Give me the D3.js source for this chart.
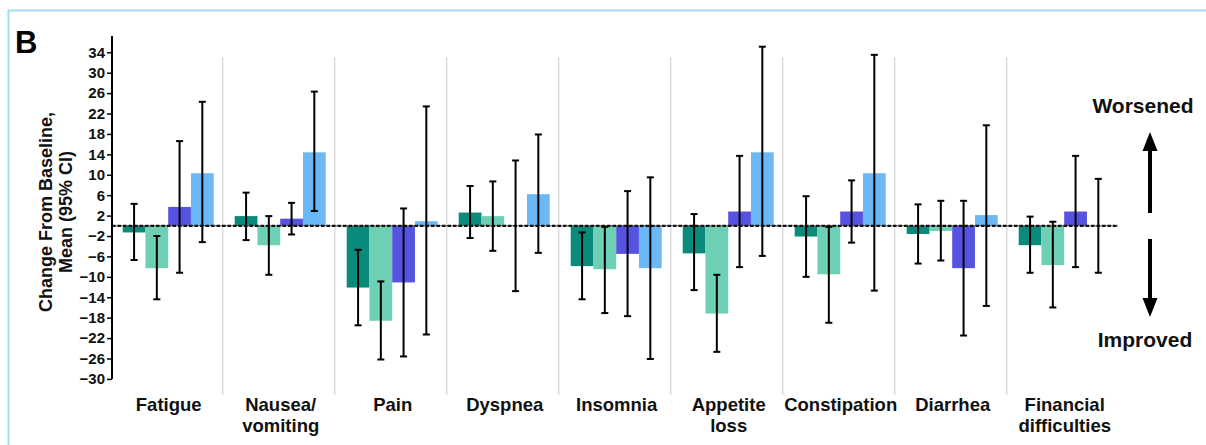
<!DOCTYPE html>
<html>
<head>
<meta charset="utf-8">
<script src="https://cdn.jsdelivr.net/npm/d3@7"></script>
<style>
  html, body { margin: 0; padding: 0; background: #fff; }
  svg { display: block; font-family: "Liberation Sans", Arial, Helvetica, sans-serif; }
</style>
</head>
<body>
<svg id="chart" width="1206" height="445"></svg>
<script>
// Symptom scales (EORTC QLQ-C30) shown along the x axis
const categories = ["Fatigue", "Nausea/\nvomiting", "Pain", "Dyspnea", "Insomnia",
                    "Appetite\nloss", "Constipation", "Diarrhea", "Financial\ndifficulties"];

// Four treatment groups: mean change from baseline with 95% CI bounds
const series = ["g1", "g2", "g3", "g4"];

const mean1  = [-1.3, 1.9, -12.1, 2.6, -7.9, -5.4, -2.1, -1.6, -3.8];
const lower1 = [-6.7, -2.8, -19.5, -2.4, -14.4, -12.6, -10.0, -7.4, -9.2];
const upper1 = [4.3, 6.5, -4.7, 7.8, -1.3, 2.3, 5.8, 4.2, 1.8];

const mean2  = [-8.3, -3.8, -18.6, 1.9, -8.5, -17.2, -9.5, -1.0, -7.7];
const lower2 = [-14.4, -9.6, -26.2, -4.9, -17.1, -24.7, -19.0, -6.8, -16.0];
const upper2 = [-2.0, 1.9, -10.9, 8.7, -0.2, -9.6, -0.2, 4.9, 0.8];

const mean3  = [3.7, 1.4, -11.1, 0.0, -5.5, 2.8, 2.8, -8.3, 2.8];
const lower3 = [-9.2, -1.7, -25.6, -12.8, -17.7, -8.1, -3.3, -21.5, -8.1];
const upper3 = [16.6, 4.5, 3.4, 12.8, 6.8, 13.7, 8.9, 4.9, 13.7];

const mean4  = [10.3, 14.4, 0.9, 6.2, -8.3, 14.4, 10.3, 2.1, 0.0];
const lower4 = [-3.2, 2.9, -21.3, -5.3, -26.1, -5.9, -12.7, -15.7, -9.2];
const upper4 = [24.3, 26.3, 23.4, 17.9, 9.5, 35.1, 33.5, 19.7, 9.2];

const yTicks = [-30, -26, -22, -18, -14, -10, -6, -2, 2, 6, 10, 14, 18, 22, 26, 30, 34];

const colors = ["#0a8a7a", "#6dcfb3", "#5653e1", "#6bb8f6"];

// Build the row table used for drawing
const means = [mean1, mean2, mean3, mean4];
const lowers = [lower1, lower2, lower3, lower4];
const uppers = [upper1, upper2, upper3, upper4];
const rows = [];
categories.forEach((c, i) => {
  series.forEach((s, j) => {
    rows.push({ cat: c, ser: s, idx: j, mean: means[j][i], lo: lowers[j][i], hi: uppers[j][i] });
  });
});

const svg = d3.select("#chart");

// Panel frame
svg.append("rect")
  .attr("x", 8.5).attr("y", 10.5)
  .attr("width", 1400).attr("height", 600)
  .attr("fill", "none")
  .attr("stroke", "#a6dcf1")
  .attr("stroke-width", 2);

// Panel letter
svg.append("text")
  .attr("x", 15).attr("y", 53)
  .attr("font-size", 31).attr("font-weight", "bold")
  .text("B");

// Scales
const y = d3.scaleLinear().domain([-30, 34]).range([378.9, 52.3]);
const x0 = d3.scaleBand().domain(categories).range([110.7, 1118.7]).paddingInner(0).paddingOuter(0);
const x1 = d3.scaleBand().domain(series).range([12, 103]).padding(0);

// Group separators
svg.append("g")
  .selectAll("line")
  .data(categories.slice(1))
  .join("line")
  .attr("x1", d => x0(d)).attr("x2", d => x0(d))
  .attr("y1", 57).attr("y2", 395)
  .attr("stroke", "#dedede")
  .attr("stroke-width", 1.5);

// Bars
svg.append("g")
  .selectAll("rect")
  .data(rows)
  .join("rect")
  .attr("x", d => x0(d.cat) + x1(d.ser))
  .attr("width", x1.bandwidth())
  .attr("y", d => y(Math.max(0, d.mean)))
  .attr("height", d => Math.abs(y(d.mean) - y(0)))
  .attr("fill", d => colors[d.idx]);

// Zero reference line
svg.append("line")
  .attr("x1", 112).attr("x2", 1118)
  .attr("y1", y(0)).attr("y2", y(0))
  .attr("stroke", "#555").attr("stroke-width", 1);
svg.append("line")
  .attr("x1", 112).attr("x2", 1118)
  .attr("y1", y(0)).attr("y2", y(0))
  .attr("stroke", "#111").attr("stroke-width", 2.2)
  .attr("stroke-dasharray", "3.5,2");

// Error bars
const eb = svg.append("g").attr("stroke", "#000").attr("stroke-width", 2);
const cx = d => x0(d.cat) + x1(d.ser) + x1.bandwidth() / 2;
eb.selectAll("line.v").data(rows).join("line").attr("class", "v")
  .attr("x1", cx).attr("x2", cx)
  .attr("y1", d => y(d.hi)).attr("y2", d => y(d.lo));
eb.selectAll("line.t").data(rows).join("line").attr("class", "t")
  .attr("x1", d => cx(d) - 3.5).attr("x2", d => cx(d) + 3.5)
  .attr("y1", d => y(d.hi)).attr("y2", d => y(d.hi));
eb.selectAll("line.b").data(rows).join("line").attr("class", "b")
  .attr("x1", d => cx(d) - 3.5).attr("x2", d => cx(d) + 3.5)
  .attr("y1", d => y(d.lo)).attr("y2", d => y(d.lo));

// Y axis
const yAxis = d3.axisLeft(y).tickValues(yTicks).tickSize(5).tickPadding(2).tickFormat(d3.format("d"));
const gy = svg.append("g").attr("transform", "translate(112,0)").call(yAxis);
gy.select(".domain").remove();
gy.append("line")
  .attr("x1", 0).attr("x2", 0)
  .attr("y1", 36).attr("y2", y(-30))
  .attr("stroke", "#000").attr("stroke-width", 2);
gy.selectAll(".tick line").attr("stroke", "#000").attr("stroke-width", 1.5);
gy.selectAll(".tick text")
  .attr("font-size", 15).attr("font-weight", "bold")
  .attr("font-family", "'Liberation Sans', Arial, sans-serif")
  .attr("fill", "#111");

// Y axis title
const yt = svg.append("text")
  .attr("transform", "translate(0,212) rotate(-90)")
  .attr("text-anchor", "middle")
  .attr("font-size", 18).attr("font-weight", "bold").attr("fill", "#111");
yt.append("tspan").attr("x", 0).attr("y", 52).text("Change From Baseline,");
yt.append("tspan").attr("x", 0).attr("y", 72).text("Mean (95% CI)");

// Category labels
const cl = svg.append("g")
  .selectAll("text")
  .data(categories)
  .join("text")
  .attr("text-anchor", "middle")
  .attr("font-size", 18.5).attr("font-weight", "bold").attr("fill", "#111")
  .attr("transform", d => `translate(${x0(d) + x0.bandwidth() / 2 + 2},0)`);
cl.selectAll("tspan")
  .data(d => d.split("\n"))
  .join("tspan")
  .attr("x", 0)
  .attr("y", (d, i) => 411 + i * 21)
  .text(d => d);

// Direction annotations
const ann = svg.append("g").attr("fill", "#111");
ann.append("text").attr("x", 1143).attr("y", 113).attr("text-anchor", "middle")
  .attr("font-size", 21).attr("font-weight", "bold").text("Worsened");
ann.append("text").attr("x", 1145).attr("y", 347).attr("text-anchor", "middle")
  .attr("font-size", 21).attr("font-weight", "bold").text("Improved");

// Arrows
ann.append("line").attr("x1", 1150).attr("x2", 1150).attr("y1", 213).attr("y2", 146)
  .attr("stroke", "#000").attr("stroke-width", 4);
ann.append("path").attr("d", "M1150,132 L1157.5,151 L1142.5,151 Z").attr("fill", "#000");
ann.append("line").attr("x1", 1150).attr("x2", 1150).attr("y1", 239).attr("y2", 303)
  .attr("stroke", "#000").attr("stroke-width", 4);
ann.append("path").attr("d", "M1150,317 L1157.5,298 L1142.5,298 Z").attr("fill", "#000");
</script>
</body>
</html>
